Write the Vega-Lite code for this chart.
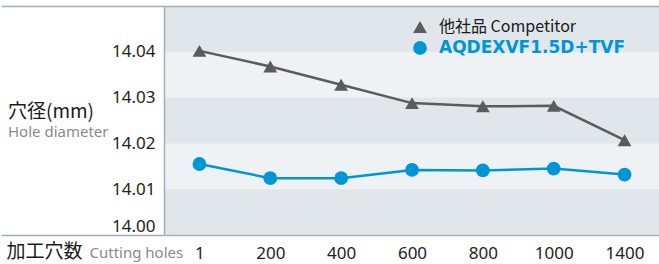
{
  "$schema": "https://vega.github.io/schema/vega-lite/v6.json",
  "width": 496,
  "height": 229,
  "padding": {"left": 0, "top": 5, "right": 0, "bottom": 0},
  "autosize": {"type": "pad"},
  "background": "white",
  "config": {"view": {"fill": "#eef2f5", "stroke": null}, "font": "Noto Sans"},
  "title": {
    "text": "穴径(mm)",
    "subtitle": "Hole diameter",
    "anchor": "start",
    "frame": "group",
    "orient": "top",
    "align": "left",
    "dx": -156,
    "offset": -135,
    "font": "Noto Sans CJK JP",
    "fontSize": 19,
    "fontWeight": "normal",
    "color": "#1a1a1a",
    "subtitleFont": "Noto Sans",
    "subtitleFontSize": 15,
    "subtitleColor": "#8a8a8a",
    "subtitlePadding": 3
  },
  "data": {
    "values": [
      {"series": "他社品 Competitor", "holes": 1, "dia": 14.0402},
      {"series": "他社品 Competitor", "holes": 200, "dia": 14.0368},
      {"series": "他社品 Competitor", "holes": 400, "dia": 14.0328},
      {"series": "他社品 Competitor", "holes": 600, "dia": 14.0288},
      {"series": "他社品 Competitor", "holes": 800, "dia": 14.0281},
      {"series": "他社品 Competitor", "holes": 1000, "dia": 14.0282},
      {"series": "他社品 Competitor", "holes": 1400, "dia": 14.0207},
      {"series": "AQDEXVF1.5D+TVF", "holes": 1, "dia": 14.0155},
      {"series": "AQDEXVF1.5D+TVF", "holes": 200, "dia": 14.0124},
      {"series": "AQDEXVF1.5D+TVF", "holes": 400, "dia": 14.0124},
      {"series": "AQDEXVF1.5D+TVF", "holes": 600, "dia": 14.0142},
      {"series": "AQDEXVF1.5D+TVF", "holes": 800, "dia": 14.0141},
      {"series": "AQDEXVF1.5D+TVF", "holes": 1000, "dia": 14.0145},
      {"series": "AQDEXVF1.5D+TVF", "holes": 1400, "dia": 14.0132}
    ]
  },
  "layer": [
    {
      "data": {"values": [{"lo": 14.0, "hi": 14.01}, {"lo": 14.02, "hi": 14.03}, {"lo": 14.04, "hi": 14.05}]},
      "mark": {"type": "rect", "color": "#e0e6e9"},
      "encoding": {
        "y": {
          "field": "lo",
          "type": "quantitative",
          "title": "Cutting holes",
          "scale": {"domain": [14.0, 14.05], "nice": false, "zero": false},
          "axis": {
            "values": [14.0, 14.01, 14.02, 14.03, 14.04, 14.05],
            "labelExpr": "datum.value > 14.045 ? '' : format(datum.value, '.2f')",
            "labelFontSize": 17,
            "labelColor": "#222222",
            "labelFont": "Noto Sans",
            "labelPadding": -154,
            "labelBaseline": {"condition": {"test": "datum.value < 14.005", "value": "bottom"}, "value": "middle"},
            "ticks": true,
            "tickSize": 163,
            "tickWidth": 1.5,
            "tickColor": {"condition": {"test": "datum.value < 14.005 || datum.value > 14.045", "value": "#a3adb3"}, "value": "transparent"},
            "grid": true,
            "gridWidth": 1.5,
            "gridColor": {"condition": {"test": "datum.value < 14.005 || datum.value > 14.045", "value": "#a3adb3"}, "value": "transparent"},
            "domain": true,
            "domainColor": "#a3adb3",
            "domainWidth": 1.5,
            "zindex": 1,
            "titleAngle": 0,
            "titleX": -75,
            "titleY": 251.5,
            "titleAlign": "left",
            "titleBaseline": "alphabetic",
            "titleColor": "#8a8a8a",
            "titleFontSize": 15,
            "titleFontWeight": "normal",
            "titleFont": "Noto Sans"
          }
        },
        "y2": {"field": "hi"}
      }
    },
    {
      "mark": {"type": "line", "strokeWidth": 2.5},
      "encoding": {
        "x": {
          "field": "holes",
          "type": "ordinal",
          "scale": {"type": "point", "padding": 0.5},
          "axis": {
            "domain": false,
            "ticks": false,
            "grid": false,
            "labelAngle": 0,
            "labelFontSize": 17,
            "labelColor": "#222222",
            "labelPadding": 23,
            "labelBaseline": "alphabetic",
            "title": "加工穴数",
            "titleX": -158,
            "titleY": 22.5,
            "titleAlign": "left",
            "titleBaseline": "alphabetic",
            "titleFont": "Noto Sans CJK JP",
            "titleFontSize": 19,
            "titleFontWeight": "normal",
            "titleColor": "#1a1a1a"
          }
        },
        "y": {"field": "dia", "type": "quantitative", "title": "Cutting holes"},
        "color": {
          "field": "series",
          "type": "nominal",
          "scale": {"domain": ["他社品 Competitor", "AQDEXVF1.5D+TVF"], "range": ["#5b5b5b", "#0096d6"]}
        }
      }
    },
    {
      "mark": {"type": "point", "filled": true, "opacity": 1, "size": 190},
      "encoding": {
        "x": {"field": "holes", "type": "ordinal", "title": "加工穴数"},
        "y": {"field": "dia", "type": "quantitative", "title": "Cutting holes"},
        "color": {
          "field": "series",
          "type": "nominal",
          "scale": {"domain": ["他社品 Competitor", "AQDEXVF1.5D+TVF"], "range": ["#5b5b5b", "#0096d6"]},
          "legend": {
            "orient": "none",
            "legendX": 248,
            "legendY": 13,
            "title": null,
            "padding": 0,
            "labelLimit": 300,
            "labelFontSize": {"expr": "datum.value == 'AQDEXVF1.5D+TVF' ? 17 : 16"},
            "labelFont": {"expr": "datum.value == 'AQDEXVF1.5D+TVF' ? 'DejaVu Sans' : 'Noto Sans CJK JP'"},
            "labelColor": {"expr": "datum.value == 'AQDEXVF1.5D+TVF' ? '#0096d6' : '#1a1a1a'"},
            "labelFontWeight": {"expr": "datum.value == 'AQDEXVF1.5D+TVF' ? 'bold' : 'normal'"},
            "symbolSize": 190,
            "symbolStrokeWidth": 0,
            "rowPadding": 4,
            "labelOffset": 11
          }
        },
        "shape": {
          "field": "series",
          "type": "nominal",
          "scale": {"domain": ["他社品 Competitor", "AQDEXVF1.5D+TVF"], "range": ["triangle-up", "circle"]}
        }
      }
    }
  ]
}
